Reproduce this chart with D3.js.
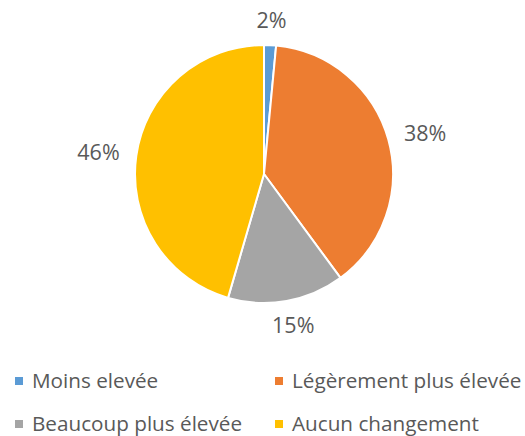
<!DOCTYPE html>
<html><head><meta charset="utf-8">
<script src="https://cdn.jsdelivr.net/npm/d3@7"></script>
<style>body{margin:0;background:#fff}svg{display:block}</style>
</head><body>
<svg id="c" width="525" height="436"></svg>
<script>
const categories = ["Moins elevée", "Légèrement plus élevée", "Beaucoup plus élevée", "Aucun changement"];
const values = [1.5, 38.4, 14.6, 45.5];
const valueLabels = ["2%", "38%", "15%", "46%"];
const colors = ["#5B9BD5", "#ED7D31", "#A5A5A5", "#FFC000"];

const svg = d3.select("#c");
const cx = 264, cy = 174, r = 129;
const font = "'Open Sans', sans-serif";
const textColor = "#595959";

const pie = d3.pie().sort(null).value(d => d)(values);
const arc = d3.arc().innerRadius(0).outerRadius(r);
const g = svg.append("g").attr("transform", `translate(${cx},${cy})`);
g.selectAll("path").data(pie).join("path")
  .attr("d", arc)
  .attr("fill", (d, i) => colors[i])
  .attr("stroke", "#fff").attr("stroke-width", 2).attr("stroke-linejoin", "round");

// outside labels: box placed just outside the pie along the slice bisector
const gap = 17, boxH = 15;
const lbls = g.selectAll("text.lbl").data(pie).join("text")
  .attr("class", "lbl")
  .attr("text-anchor", "middle")
  .attr("font-family", font).attr("font-size", 21.5).attr("fill", textColor)
  .text((d, i) => valueLabels[i]);
lbls.each(function(d) {
  const w = this.getComputedTextLength();
  const a = (d.startAngle + d.endAngle) / 2;
  const s = Math.sin(a), c = Math.cos(a);
  const x = (r + gap) * s + (w / 2) * s;
  const y = -(r + gap) * c - (boxH / 2) * c;
  d3.select(this).attr("x", x).attr("y", y).attr("dy", "0.36em");
});

// legend
const colX = [15, 275];
const rowY = [381, 424];
const leg = svg.append("g");
categories.forEach((c, i) => {
  const x = colX[i % 2], y = rowY[Math.floor(i / 2)];
  leg.append("rect").attr("x", x).attr("y", y - 4).attr("width", 8).attr("height", 8).attr("fill", colors[i]);
  leg.append("text").attr("x", x + 17).attr("y", y).attr("dy", "0.35em")
    .attr("font-family", font).attr("font-size", 20.7).attr("fill", textColor).text(c);
});
</script>
</body></html>
